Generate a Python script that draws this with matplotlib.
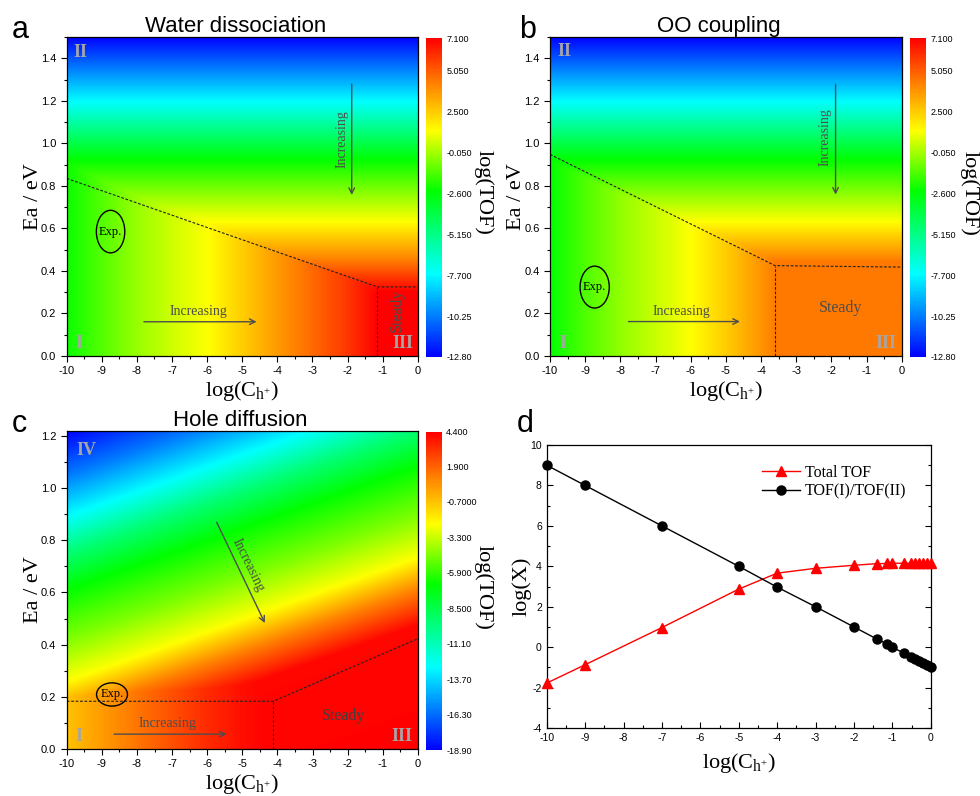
import numpy as np
import matplotlib.pyplot as plt
from matplotlib.colors import LinearSegmentedColormap
from matplotlib.patches import Ellipse

plt.rcParams['font.family'] = ['Liberation Sans', 'DejaVu Sans']
plt.rcParams['axes.unicode_minus'] = False
SERIF = ['Liberation Serif', 'DejaVu Serif']

# --- map data ------------------------------------------------------------
# a / b: above the dashed line logTOF depends on Ea only
ea_ab = [0.00, 0.30, 0.45, 0.63, 0.92, 1.20, 1.50]
tof_ea_ab = [7.1, 7.1, 4.3, 1.3, -2.45, -7.7, -12.8]
# a: below the dashed line logTOF depends on log(C) only
logc_a = [-10, -9, -8, -7, -6, -5, -4, -3, -2, -1.15, 0]
tof_c_a = [-2.3, -1.2, -0.2, 0.6, 1.3, 2.5, 3.7, 4.8, 5.9, 7.1, 7.1]
# b
logc_b = [-10, -9, -8, -7, -6, -5, -4, -3.6, 0]
tof_c_b = [-2.4, -1.3, -0.3, 0.5, 1.3, 2.5, 3.8, 4.4, 4.4]
# c: bands tilted by tilt_c eV per decade
tilt_c = 0.0475
u_c = [-0.6, 0.0, 0.135, 0.26, 0.42, 0.61, 0.75, 0.89, 1.05, 1.22]
tof_u_c = [4.4, 4.2, 1.1, -2.4, -4.6, -6.8, -9.5, -12.8, -16.0, -18.9]
logc_c = [-10, -8, -6, -5, -4.12, 0]
tof_c_c = [-0.7, 1.4, 3.3, 4.0, 4.4, 4.4]

# dashed region boundaries
bound_a = ([-10, -1.15, 0], [0.835, 0.325, 0.325])
vert_a = -1.15
bound_b = ([-10, -3.6, 0], [0.948, 0.425, 0.418])
vert_b = -3.6
bound_c = ([-10, -4.12, 0], [0.183, 0.183, 0.423])
vert_c = -4.12

# colour bar ticks
cb_ticks_ab = [7.1, 5.05, 2.5, -0.05, -2.6, -5.15, -7.7, -10.25, -12.8]
cb_labels_ab = ['7.100', '5.050', '2.500', '-0.050', '-2.600', '-5.150',
                '-7.700', '-10.25', '-12.80']
cb_ticks_c = [4.4, 1.9, -0.7, -3.3, -5.9, -8.5, -11.1, -13.7, -16.3, -18.9]
cb_labels_c = ['4.400', '1.900', '-0.7000', '-3.300', '-5.900', '-8.500',
               '-11.10', '-13.70', '-16.30', '-18.90']

# --- panel d data ---------------------------------------------------------
logc_d = [-10, -9, -7, -5, -4, -3, -2, -1.4, -1.15, -1, -0.7, -0.52, -0.4,
          -0.3, -0.2, -0.1, 0]
total_tof = [-1.78, -0.87, 0.97, 2.87, 3.66, 3.9, 4.05, 4.13, 4.14, 4.15,
             4.15, 4.15, 4.15, 4.15, 4.15, 4.15, 4.15]
tof_ratio = [9.0, 8.0, 6.0, 4.0, 2.97, 2.0, 1.0, 0.4, 0.17, 0.0, -0.3,
             -0.47, -0.6, -0.7, -0.8, -0.9, -1.0]

cmap = LinearSegmentedColormap.from_list(
    'rainbow_origin',
    [(0.0, '#0000ff'), (0.26, '#00ffff'), (0.52, '#00ff00'),
     (0.71, '#ffff00'), (0.86, '#ff8000'), (1.0, '#ff0000')])

fig = plt.figure(figsize=(9.8, 7.96), dpi=100)
W, H = 980.0, 796.0


def rect(x0, y0, x1, y1):
    return [x0 / W, 1 - y1 / H, (x1 - x0) / W, (y1 - y0) / H]


lc = np.linspace(-10, 0, 600)


def heat_panel(box, cbox, field, ytop, vmin, vmax, ticks, labels, title,
               title_x, yticks):
    ax = fig.add_axes(rect(*box))
    im = ax.imshow(field, extent=[-10, 0, 0, ytop], origin='lower',
                   aspect='auto', cmap=cmap, vmin=vmin, vmax=vmax,
                   interpolation='bilinear')
    ax.set_xlim(-10, 0)
    ax.set_ylim(0, ytop)
    ax.set_xticks(np.arange(-10, 1, 1))
    ax.set_xticks(np.arange(-10, 0.01, 0.5), minor=True)
    ax.set_yticks(yticks)
    ax.set_yticks(np.arange(0, ytop + 0.001, 0.1), minor=True)
    ax.set_yticklabels([f'{v:.1f}' for v in yticks])
    ax.tick_params(which='both', direction='out', labelsize=8, width=0.8,
                   top=False, right=False)
    ax.tick_params(which='major', length=4)
    ax.tick_params(which='minor', length=2)
    for s in ax.spines.values():
        s.set_linewidth(0.9)
    ax.set_title(title, fontsize=16, pad=3, x=title_x)
    ax.set_xlabel(r'$\mathregular{log(C_{h^{+}})}$', family=SERIF,
                  fontsize=16)
    ax.set_ylabel('Ea / eV', family=SERIF, fontsize=16)
    ax.xaxis.set_label_coords(0.5, -0.072)
    ax.yaxis.set_label_coords(-0.068, 0.5)

    cax = fig.add_axes(rect(*cbox))
    cb = fig.colorbar(im, cax=cax, ticks=ticks)
    cb.set_ticklabels(labels)
    cb.outline.set_visible(False)
    cax.tick_params(length=0, labelsize=6.5, pad=3)
    return ax


def dashed(ax, xs, ys, vx, vy):
    kw = dict(color='#222222', lw=0.8, ls=(0, (2.5, 1.5)))
    ax.plot(xs, ys, **kw)
    ax.plot([vx, vx], [0, vy], **kw)


def arrow(ax, start, end):
    ax.annotate('', xy=end, xytext=start,
                arrowprops=dict(arrowstyle='->', color='#4d4d4d', lw=1,
                                shrinkA=0, shrinkB=0))


def roman(ax, x, y, s):
    ax.text(x, y, s, family=SERIF, fontsize=13, fontweight='bold',
            color='#a6a6a6', ha='center', va='center')


def exp_mark(ax, cx, cy, w, h):
    ax.add_patch(Ellipse((cx, cy), w, h, fill=False, ec='black', lw=1))
    ax.text(cx, cy, 'Exp.', family=SERIF, fontsize=9, ha='center',
            va='center')


def txt(ax, x, y, s, size=10, rot=0, color='#4d4d4d'):
    ax.text(x, y, s, family=SERIF, fontsize=size, rotation=rot,
            color=color, ha='center', va='center', rotation_mode='anchor')


# ---- panel a ----
ea15 = np.linspace(0, 1.5, 500)
LC, EA = np.meshgrid(lc, ea15)
field_a = np.minimum(np.interp(EA, ea_ab, tof_ea_ab),
                     np.interp(LC, logc_a, tof_c_a))
ax_a = heat_panel((66.7, 37, 417.7, 356), (426, 38, 442, 357), field_a, 1.5,
                  -12.8, 7.1, cb_ticks_ab, cb_labels_ab,
                  'Water dissociation', 0.48, np.arange(0, 1.41, 0.2))
dashed(ax_a, *bound_a, vert_a, bound_a[1][1])
exp_mark(ax_a, -8.75, 0.585, 0.81, 0.2)
arrow(ax_a, (-7.8, 0.161), (-4.59, 0.161))
txt(ax_a, -6.25, 0.208, 'Increasing')
arrow(ax_a, (-1.88, 1.279), (-1.88, 0.757))
txt(ax_a, -2.17, 1.02, 'Increasing', rot=90)
txt(ax_a, -0.58, 0.216, 'Steady', size=11.5, rot=90)
roman(ax_a, -9.6, 1.426, 'II')
roman(ax_a, -9.65, 0.06, 'I')
roman(ax_a, -0.43, 0.06, 'III')

# ---- panel b ----
field_b = np.minimum(np.interp(EA, ea_ab, tof_ea_ab),
                     np.interp(LC, logc_b, tof_c_b))
ax_b = heat_panel((550, 37, 901.7, 356), (910, 38, 926, 357), field_b, 1.5,
                  -12.8, 7.1, cb_ticks_ab, cb_labels_ab,
                  'OO coupling', 0.48, np.arange(0, 1.41, 0.2))
dashed(ax_b, *bound_b, vert_b, bound_b[1][1])
exp_mark(ax_b, -8.73, 0.324, 0.83, 0.197)
arrow(ax_b, (-7.77, 0.162), (-4.6, 0.162))
txt(ax_b, -6.26, 0.209, 'Increasing')
arrow(ax_b, (-1.88, 1.278), (-1.88, 0.759))
txt(ax_b, -2.18, 1.027, 'Increasing', rot=90)
txt(ax_b, -1.75, 0.225, 'Steady', size=11.5)
roman(ax_b, -9.58, 1.43, 'II')
roman(ax_b, -9.63, 0.06, 'I')
roman(ax_b, -0.45, 0.06, 'III')

# ---- panel c ----
ea12 = np.linspace(0, 1.22, 500)
LC2, EA2 = np.meshgrid(lc, ea12)
U = EA2 - tilt_c * (LC2 + 10)
field_c = np.minimum(np.interp(U, u_c, tof_u_c),
                     np.interp(LC2, logc_c, tof_c_c))
ax_c = heat_panel((66.7, 430.7, 418, 749), (426, 432, 442, 750), field_c,
                  1.22, -18.9, 4.4, cb_ticks_c, cb_labels_c,
                  'Hole diffusion', 0.495, np.arange(0, 1.21, 0.2))
dashed(ax_c, *bound_c, vert_c, bound_c[1][1])
exp_mark(ax_c, -8.71, 0.209, 0.88, 0.089)
arrow(ax_c, (-8.65, 0.057), (-5.45, 0.057))
txt(ax_c, -7.14, 0.098, 'Increasing')
arrow(ax_c, (-5.73, 0.869), (-4.36, 0.483))
txt(ax_c, -4.83, 0.703, 'Increasing', rot=-64)
txt(ax_c, -2.11, 0.126, 'Steady', size=11.5, color='#404040')
roman(ax_c, -9.45, 1.146, 'IV')
roman(ax_c, -9.64, 0.047, 'I')
roman(ax_c, -0.45, 0.047, 'III')

# colour bar titles
for x, y in [(483, 192), (969, 193), (483, 587)]:
    fig.text(x / W, 1 - y / H, 'log(TOF)', family=SERIF, fontsize=16,
             rotation=270, ha='center', va='center')

# ---- panel d ----
ax_d = fig.add_axes(rect(546.7, 445, 930.7, 728))
ax_d.plot(logc_d, total_tof, color='red', lw=1, marker='^', ms=7.5,
          label='Total TOF', clip_on=False, zorder=3)
ax_d.plot(logc_d, tof_ratio, color='black', lw=1, marker='o', ms=6.5,
          label='TOF(I)/TOF(II)', clip_on=False, zorder=3)
ax_d.set_xlim(-10, 0)
ax_d.set_ylim(-4, 10)
ax_d.set_xticks(np.arange(-10, 1, 1))
ax_d.set_xticks(np.arange(-10, 0.01, 0.5), minor=True)
ax_d.set_yticks(np.arange(-4, 11, 2))
ax_d.set_yticks(np.arange(-4, 11, 1), minor=True)
ax_d.tick_params(which='both', direction='in', labelsize=7.5, width=0.8,
                 right=True, top=False)
ax_d.tick_params(which='major', length=4)
ax_d.tick_params(which='minor', length=2.5)
for s in ax_d.spines.values():
    s.set_linewidth(0.9)
ax_d.set_xlabel(r'$\mathregular{log(C_{h^{+}})}$', family=SERIF, fontsize=16)
ax_d.set_ylabel('log(X)', family=SERIF, fontsize=16)
ax_d.xaxis.set_label_coords(0.5, -0.08)
ax_d.yaxis.set_label_coords(-0.04, 0.5)
ax_d.legend(loc='upper left', bbox_to_anchor=(0.56, 0.93), frameon=False,
            prop={'family': SERIF, 'size': 11.5}, handlelength=2.4,
            handletextpad=0.3, borderpad=0, borderaxespad=0,
            labelspacing=0.15)

# panel letters
for x, y, s in [(12, 38, 'a'), (519, 38, 'b'), (12, 432, 'c'),
                (517, 432, 'd')]:
    fig.text(x / W, 1 - y / H, s, fontsize=22, va='baseline')

fig.savefig('out.png', dpi=100)
